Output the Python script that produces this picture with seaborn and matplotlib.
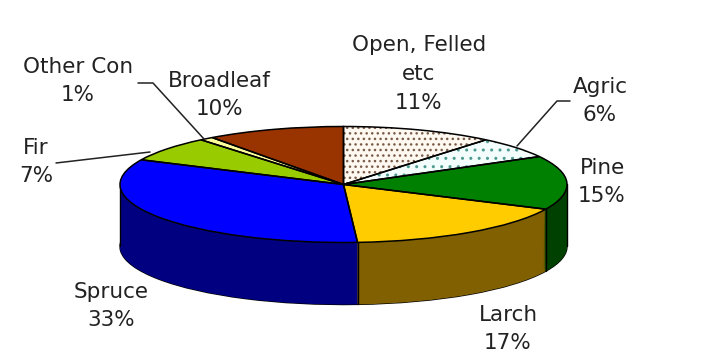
import numpy as np
import matplotlib
matplotlib.use("Agg")
import matplotlib.pyplot as plt
from matplotlib.lines import Line2D
import seaborn as sns

categories = ["Open, Felled\netc", "Agric", "Pine", "Larch", "Spruce", "Fir", "Other Con", "Broadleaf"]
values = [11, 6, 15, 17, 33, 7, 1, 10]
top_colors = ["#fdf8f0", "#f2fdfc", "#008000", "#ffcc00", "#0000ff", "#99cc00", "#ffff99", "#993300"]
side_colors = ["#807c78", "#778080", "#004000", "#806000", "#000080", "#4d6600", "#808050", "#4d1a00"]
hatch_colors = ["#7a5a48", "#4f9a90", None, None, None, None, None, None]
hatch_styles = ["...", "..", None, None, None, None, None, None]
label_px = [(419, 74), (600, 101), (602, 182), (508, 329), (111, 306), (36, 162), (78, 81), (219, 95)]

W, H = 702, 360
CX, CY, RX, RY, DEPTH = 343.5, 184.5, 223.5, 58.0, 62

sns.set_theme(style="white")
plt.rcParams["font.family"] = ["DejaVu Sans"]
plt.rcParams["hatch.linewidth"] = 1.0

fig = plt.figure(figsize=(W / 100, H / 100), dpi=100, facecolor="white")
ax = fig.add_axes([0, 0, 1, 1])
pie_kw = dict(startangle=90, counterclock=False, radius=1)

# side walls: stacked copies of the pie, from the bottom up
dy_unit = DEPTH / RY
for step in np.linspace(dy_unit, 0, DEPTH + 1):
    w, _ = ax.pie(values, colors=side_colors, center=(0, -step), **pie_kw)
    for p in w:
        p.set_linewidth(0)

# outline of the base
w, _ = ax.pie(values, colors=["none"] * len(values), center=(0, -dy_unit),
              wedgeprops=dict(edgecolor="black", linewidth=1.0), **pie_kw)
for p in w:
    p.set_zorder(0.5)

# covering stack again above the outline, but inset so the rim line remains
for step in np.linspace(dy_unit - 0.03, 0, DEPTH):
    w, _ = ax.pie(values, colors=side_colors, center=(0, -step), **pie_kw)
    for p in w:
        p.set_linewidth(0)
        p.set_zorder(1)

# vertical seams on the visible wall
angles = 90 - np.cumsum(values) / np.sum(values) * 360
for a in angles:
    x, y = np.cos(np.radians(a)), np.sin(np.radians(a))
    if y < 0:
        ax.plot([x, x], [y, y - dy_unit], color="black", lw=1.0, zorder=2)
for sx in (-1, 1):
    ax.plot([sx, sx], [0, -dy_unit], color="black", lw=1.0, zorder=2)

# top face
w, _ = ax.pie(values, colors=top_colors, **pie_kw)
for p, hc, hs in zip(w, hatch_colors, hatch_styles):
    p.set_zorder(3)
    p.set_linewidth(0)
    if hc:
        p.set_hatch(hs)
        p.set_edgecolor(hc)
w, _ = ax.pie(values, colors=["none"] * len(values),
              wedgeprops=dict(edgecolor="black", linewidth=1.1), **pie_kw)
for p in w:
    p.set_zorder(4)

ax.set_aspect("auto")
ax.set_xlim(-CX / RX, (W - CX) / RX)
ax.set_ylim(-(H - CY) / RY, CY / RY)
ax.axis("off")

# labels
for name, val, (px, py) in zip(categories, values, label_px):
    fig.text(px / W, 1 - py / H, f"{name}\n{val}%", ha="center", va="center",
             fontsize=15.5, color="#222222", linespacing=1.55)

# leader lines
leaders = [
    [(138, 83), (153, 83), (204, 139)],
    [(56, 163), (150, 152)],
    [(570, 101), (557, 101), (517, 146)],
]
for pts in leaders:
    xs = [p[0] / W for p in pts]
    ys = [1 - p[1] / H for p in pts]
    fig.add_artist(Line2D(xs, ys, color="#222222", lw=1.1, transform=fig.transFigure))

fig.savefig("out.png", dpi=100, facecolor="white")
